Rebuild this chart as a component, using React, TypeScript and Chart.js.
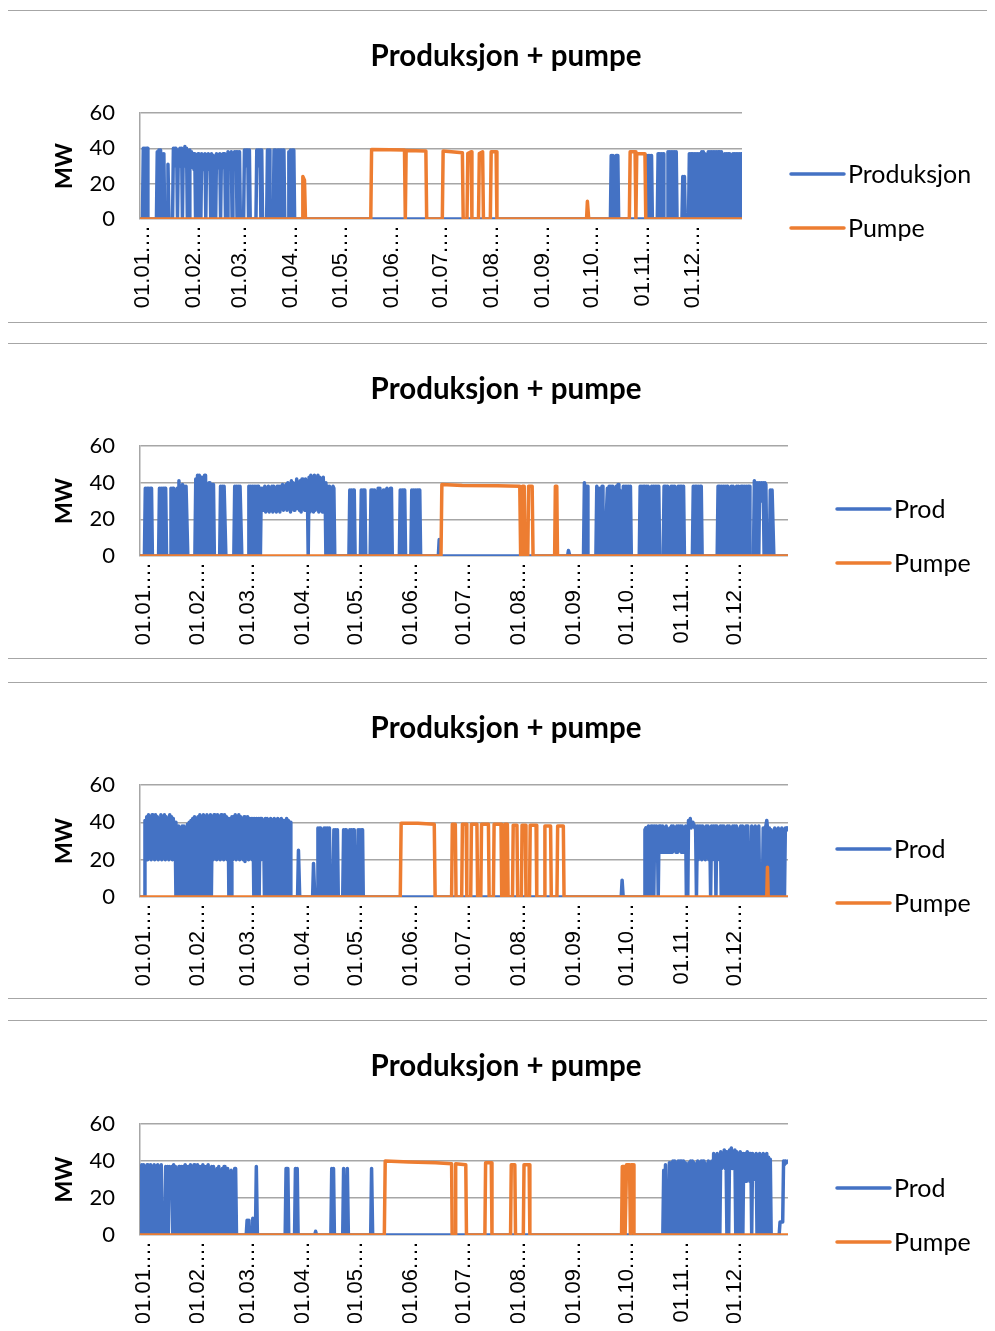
import React, { useEffect, useRef } from 'react';
import { Chart, registerables } from 'chart.js';

Chart.register(...registerables);

// ---------- shared axis data ----------
const monthStarts = [0, 31, 59, 90, 120, 151, 181, 212, 243, 273, 304, 334];
const monthLabels = ['01.01.…', '01.02.…', '01.03.…', '01.04.…', '01.05.…', '01.06.…', '01.07.…', '01.08.…', '01.09.…', '01.10.…', '01.11.…', '01.12.…'];
const yTicks = [0, 20, 40, 60];
const chartTitle = 'Produksjon + pumpe';
const axisTitle = 'MW';
const pumpLabel = 'Pumpe';

// ---------- series: [day of year (0 = 1 Jan), MW] ----------
const p1Prod: [number, number][] = [
  [-2, 0], [-0.5, 0], [0, 40], [0.5, 0], [1, 40], [1.5, 0], [2, 40], [2.5, 40], [2.8, 0],
  [8, 0], [8.5, 38], [9, 0], [9.5, 39], [10, 0], [10.5, 39], [11, 0], [11.5, 37], [12, 31], [12.5, 37], [13, 0],
  [14.5, 0], [15, 31], [15.6, 0],
  [17.8, 0], [18.3, 40], [18.8, 31], [19.3, 40], [19.8, 30], [20.3, 39], [20.8, 0], [21.3, 39], [21.8, 30], [22.3, 40], [22.8, 31], [23.3, 40], [23.8, 0], [24.3, 39], [24.8, 30], [25.3, 41], [25.8, 31], [26.3, 40], [26.8, 0],
  [27.8, 0], [28.3, 39], [28.8, 29], [29.3, 38], [29.8, 30], [30.3, 37], [30.8, 28], [31.3, 37], [31.8, 0], [32.3, 36], [32.8, 28], [33.3, 37], [33.8, 0],
  [35, 0], [35.5, 37], [36, 28], [36.5, 36], [37, 29], [37.5, 37], [38, 0], [38.5, 36], [39, 28], [39.5, 37], [40, 29], [40.5, 36], [41, 0], [41.5, 37], [42, 29], [42.5, 36], [43, 0],
  [44, 0], [44.5, 37], [45, 29], [45.5, 36], [46, 30], [46.5, 37], [47, 0], [47.5, 36], [48, 29], [48.5, 37], [49, 30], [49.5, 37], [50, 0],
  [51, 0], [51.5, 38], [52, 29], [52.5, 37], [53, 30], [53.5, 38], [54, 0], [54.5, 37], [55, 29], [55.5, 38], [56, 30], [56.5, 38], [57, 0], [57.5, 38], [58, 29], [58.5, 38], [59, 0],
  [61, 0], [61.5, 39], [62, 30], [62.5, 39], [63, 31], [63.5, 39], [64, 0], [64.5, 39], [65, 0],
  [68.5, 0], [69, 39], [69.5, 31], [70, 39], [70.5, 30], [71, 39], [71.5, 0], [72, 39], [72.5, 0],
  [75, 0], [75.5, 39], [76, 38], [76.5, 39], [77, 0],
  [79, 0], [79.5, 39], [80, 30], [80.5, 39], [81, 0], [81.5, 38], [82, 39], [82.5, 0], [83, 30], [83.5, 39], [84, 39], [84.5, 0], [85, 39], [85.5, 38], [86, 0],
  [88, 0], [88.5, 38], [89, 0], [89.5, 39], [90, 0], [90.5, 39], [91, 0], [91.5, 39], [92, 0],
  [284, 0], [284.5, 36], [285, 0], [285.5, 36], [286, 0], [287, 0], [287.5, 36], [288, 0], [288.5, 36], [289, 0],
  [305.5, 0], [306, 36], [306.5, 0], [307, 36], [307.5, 0], [308, 36], [308.5, 0], [309, 36], [309.5, 0],
  [312.5, 0], [313, 37], [313.5, 0], [314, 37], [314.5, 0], [315, 37], [315.5, 0], [316, 37], [316.5, 0],
  [318.5, 0], [319, 38], [319.5, 0], [320, 38], [320.5, 0], [321, 38], [321.5, 0], [322, 38], [322.5, 0], [323, 38], [323.5, 0], [324, 38], [324.5, 0],
  [327.5, 0], [328, 24], [328.5, 0], [329, 24], [329.5, 0],
  [331.5, 0], [332, 37], [332.5, 0], [333, 37], [333.5, 0], [334, 37], [334.5, 0], [335, 37], [335.5, 0], [336, 37], [336.5, 0], [337, 37], [337.5, 0], [338, 37], [338.5, 0],
  [339, 0], [339.5, 38], [340, 0], [340.5, 38], [341, 0], [341.5, 37], [342, 0], [343, 0], [343.5, 38], [344, 0], [344.5, 38], [345, 0], [345.5, 38], [346, 0], [346.5, 38], [347, 0],
  [347.5, 38], [348, 0], [348.5, 38], [349, 0], [349.5, 38], [350, 0], [350.5, 38], [351, 0], [351.5, 38], [352, 0],
  [353, 0], [353.5, 37], [354, 0], [354.5, 37], [355, 0], [355.5, 37], [356, 0], [356.5, 37], [357, 0], [358, 0], [358.5, 37], [359, 0], [359.5, 37], [360, 0], [360.5, 37], [361, 0],
  [361.5, 37], [362, 0], [362.5, 37], [363, 0], [363.5, 37], [364, 0],
];

const p1Pump: [number, number][] = [
  [-2, 0], [96.5, 0], [97, 24], [98, 22], [98.6, 0],
  [138.3, 0], [138.8, 39.3], [150, 39.2], [158.8, 39], [159.3, 0], [159.8, 38.8], [171.8, 38.5], [172.3, 0],
  [181.8, 0], [182.3, 38.5], [194, 37.5], [194.5, 0],
  [196.8, 0], [197.3, 37], [199.3, 38], [199.8, 0],
  [203.8, 0], [204.3, 37], [206.3, 38], [206.8, 0],
  [211, 0], [211.5, 38], [214.5, 38], [215, 0],
  [269.5, 0], [270, 10], [270.8, 0],
  [295.5, 0], [296, 38], [299, 38], [299.5, 0], [300, 37], [305, 37], [305.5, 0],
  [364, 0],
];

const p2Prod: [number, number][] = [
  [-2, 0], [0.5, 0], [1, 37], [1.5, 0], [2, 37], [2.5, 0], [3, 37], [3.5, 0], [4, 37], [4.5, 37], [5, 0],
  [8.5, 0], [9, 37], [9.5, 0], [10, 37], [10.5, 0], [11, 37], [11.5, 0], [12, 37], [12.5, 37], [13, 0],
  [15, 0], [15.5, 37], [16, 0], [16.5, 37], [17, 37], [17.5, 0], [18.5, 0], [19, 37], [19.5, 0], [20, 41], [20.5, 0], [21.5, 0], [22, 39], [22.5, 0], [23, 38], [23.5, 0], [24, 38], [24.5, 38], [25, 0],
  [29, 0], [29.5, 42], [30, 0], [30.5, 44], [31, 0], [31.5, 44], [32, 0], [32.5, 43], [33, 0], [33.5, 41], [34, 0], [34.5, 44], [35, 44], [35.5, 0],
  [36.5, 0], [37, 40], [37.5, 0], [38, 39], [38.5, 0], [39, 39], [39.5, 39], [40, 0],
  [43, 0], [43.5, 38], [44, 0], [44.5, 38], [45, 0], [45.5, 38], [46, 38], [46.5, 0],
  [51, 0], [51.5, 38], [52, 0], [52.5, 38], [53, 0], [53.5, 38], [54, 0], [54.5, 38], [55, 38], [55.5, 0],
  [59, 0], [59.5, 38], [60, 0], [60.5, 38], [61, 0], [61.5, 38], [62, 0], [62.5, 38], [63, 0], [63.5, 38], [64, 0], [64.5, 38], [65, 38], [65.5, 0], [66, 0],
  [66.5, 37], [67, 25], [67.5, 37], [68, 25], [68.5, 38], [69, 24], [69.5, 37], [70, 25], [70.5, 38], [71, 24], [71.5, 37], [72, 25], [72.5, 38], [73, 24], [73.5, 38], [74, 25], [74.5, 37], [75, 24],
  [75.5, 38], [76, 25], [76.5, 38], [77, 24], [77.5, 38], [78, 26], [78.5, 39], [79, 25], [79.5, 38], [80, 26], [80.5, 39], [81, 25], [81.5, 40], [82, 27], [82.5, 39], [83, 24], [83.5, 41], [84, 26],
  [84.5, 40], [85, 25], [85.5, 39], [86, 27], [86.5, 42], [87, 26], [87.5, 40], [88, 25], [88.5, 41], [89, 24], [89.5, 42], [90, 27], [90.5, 40], [91, 25], [91.5, 42], [92, 26], [92.5, 40], [93, 0],
  [93.5, 43], [94, 24], [94.5, 44], [95, 26], [95.5, 43], [96, 24], [96.5, 44], [97, 25], [97.5, 42], [98, 26], [98.5, 44], [99, 24], [99.5, 43], [100, 26], [100.5, 42], [101, 24], [101.5, 43], [102, 25],
  [102.5, 40], [103, 0], [103.5, 0], [104, 38], [104.5, 0], [105, 38], [105.5, 0], [106, 37], [106.5, 0], [107, 38], [107.5, 37], [108, 0],
  [116, 0], [116.5, 36], [117, 0], [117.5, 36], [118, 0], [118.5, 36], [119, 36], [119.5, 0],
  [122.5, 0], [123, 36], [123.5, 0], [124, 36], [124.5, 0], [125, 36], [125.5, 0],
  [128, 0], [128.5, 36], [129, 0], [129.5, 36], [130, 0], [130.5, 36], [131, 0], [132, 0], [132.5, 37], [133, 0], [133.5, 37], [134, 0],
  [135, 0], [135.5, 36], [136, 0], [136.5, 36], [137, 0], [137.5, 37], [138, 0], [138.5, 36], [139, 0], [139.5, 37], [140, 37], [140.5, 0],
  [144.5, 0], [145, 36], [145.5, 0], [146, 36], [146.5, 0], [147, 36], [147.5, 36], [148, 0],
  [151, 0], [151.5, 36], [152, 0], [152.5, 36], [153, 0], [153.5, 36], [154, 0], [154.5, 36], [155, 0], [155.5, 36], [156, 36], [156.5, 0],
  [166.5, 0], [167, 9], [167.5, 0],
  [239.5, 0], [240, 3], [240.8, 0],
  [248.5, 0], [249, 40], [249.5, 0], [250, 38], [250.5, 38], [251, 0],
  [255.5, 0], [256, 38], [256.5, 0], [257, 37], [257.5, 0], [258, 37], [258.5, 0], [259, 38], [259.5, 0], [261, 0], [261.5, 25], [262, 37], [262.5, 0], [263, 38], [263.5, 0], [264, 38], [264.5, 0],
  [265, 38], [265.5, 0], [266.5, 0], [267, 38], [267.5, 0], [268, 39], [268.5, 0], [269, 36], [269.5, 0], [270.5, 0], [271, 38], [271.5, 0], [272, 38], [272.5, 0],
  [273, 38], [273.5, 0], [274, 38], [274.5, 0], [275, 38], [275.5, 0],
  [280, 0], [280.5, 38], [281, 0], [281.5, 38], [282, 0], [282.5, 38], [283, 38], [283.5, 0], [284, 38], [284.5, 0], [285, 38], [285.5, 0], [286, 37], [286.5, 0],
  [287, 38], [287.5, 0], [288, 38], [288.5, 0], [289, 38], [289.5, 0], [290, 38], [290.5, 0], [291, 38], [291.5, 0],
  [293.5, 0], [294, 38], [294.5, 0], [295, 38], [295.5, 0], [296, 38], [296.5, 0], [297, 37], [297.5, 0], [298, 38], [298.5, 0], [299, 38], [299.5, 0],
  [300, 38], [300.5, 0], [301, 37], [301.5, 0], [302, 38], [302.5, 0], [303, 38], [303.5, 0], [304, 38], [304.5, 0], [305, 38], [305.5, 0],
  [310, 0], [310.5, 38], [311, 0], [311.5, 38], [312, 0], [312.5, 38], [313, 0], [313.5, 38], [314, 0], [314.5, 38], [315, 38], [315.5, 0],
  [324, 0], [324.5, 38], [325, 0], [325.5, 38], [326, 0], [326.5, 38], [327, 0], [327.5, 38], [328, 0], [328.5, 38], [329, 0], [329.5, 38], [330, 38], [330.5, 0],
  [331.5, 0], [332, 38], [332.5, 0], [333, 38], [333.5, 0], [334, 37], [334.5, 0], [335, 38], [335.5, 0], [336, 38], [336.5, 0],
  [337, 0], [337.5, 38], [338, 0], [338.5, 38], [339, 0], [339.5, 38], [340, 0], [340.5, 38], [341, 0], [341.5, 38], [342, 38], [342.5, 0],
  [344.5, 0], [345, 41], [345.5, 0], [346, 40], [346.5, 0], [347, 40], [347.5, 0], [348, 40], [348.5, 30], [349, 40], [349.5, 30], [350, 40], [350.5, 0], [351, 40], [351.5, 39], [352, 0],
  [353.5, 0], [354, 36], [354.5, 0], [355, 36], [355.5, 36], [356, 0], [364, 0],
];

const p2Pump: [number, number][] = [
  [-2, 0], [168, 0], [168.5, 39], [180, 38.5], [200, 38.3], [212.5, 38], [213, 0],
  [213.5, 0], [214, 38], [215, 38], [215.5, 0],
  [217, 0], [217.5, 38], [219.5, 38], [220, 0],
  [232.2, 0], [232.6, 38], [233.4, 38], [233.8, 0],
  [364, 0],
];

const p3Prod: [number, number][] = [
  [-2, 0], [0.5, 0], [0.8, 41],
  [1.3, 22], [1.8, 43], [2.3, 20], [2.8, 44], [3.3, 21], [3.8, 42], [4.3, 20], [4.8, 44], [5.3, 21], [5.8, 43], [6.3, 20], [6.8, 44], [7.3, 22], [7.8, 43], [8.3, 20], [8.8, 42], [9.3, 21], [9.8, 44],
  [10.3, 20], [10.8, 43], [11.3, 22], [11.8, 44], [12.3, 20], [12.8, 43], [13.3, 21], [13.8, 42], [14.3, 20], [14.8, 44], [15.3, 21], [15.8, 43], [16.3, 20], [16.8, 42], [17.3, 21], [17.8, 40],
  [18.3, 0], [18.8, 38], [19.3, 0], [19.8, 38], [20.3, 0], [20.8, 37], [21.3, 0], [21.8, 38], [22.3, 0], [22.8, 38], [23.3, 0], [23.8, 37], [24.3, 0], [24.8, 39], [25.3, 0], [25.8, 40], [26.3, 0], [26.8, 41],
  [27.3, 0], [27.8, 42], [28.3, 0], [28.8, 43], [29.3, 0], [29.8, 42], [30.3, 0], [30.8, 43], [31.3, 0], [31.8, 44], [32.3, 0], [32.8, 43], [33.3, 0], [33.8, 44], [34.3, 0], [34.8, 43], [35.3, 0], [35.8, 44],
  [36.3, 0], [36.8, 43], [37.3, 0], [37.8, 44], [38.3, 0], [38.8, 43],
  [39.3, 20], [39.8, 44], [40.3, 21], [40.8, 43], [41.3, 20], [41.8, 44], [42.3, 22], [42.8, 43], [43.3, 20], [43.8, 44], [44.3, 21], [44.8, 43], [45.3, 20], [45.8, 44], [46.3, 21], [46.8, 43], [47.3, 20], [47.8, 42],
  [48.2, 0], [49.5, 0], [49.9, 43],
  [50.3, 20], [50.8, 43], [51.3, 21], [51.8, 44], [52.3, 20], [52.8, 43], [53.3, 22], [53.8, 44], [54.3, 20], [54.8, 43], [55.3, 21], [55.8, 42], [56.3, 20], [56.8, 43], [57.3, 19], [57.8, 42],
  [58.3, 21], [58.8, 43], [59.3, 20], [59.8, 42], [60.3, 21], [60.8, 42], [61.3, 20], [61.8, 42], [62.3, 0], [62.8, 42], [63.3, 21], [63.8, 42], [64.3, 0], [64.8, 42], [65.3, 0], [65.8, 42],
  [66.3, 20], [66.8, 42], [67.3, 21], [67.8, 41], [68.3, 0], [68.8, 42], [69.3, 20], [69.8, 42], [70.3, 0],
  [70.8, 41], [71.3, 0], [71.8, 42], [72.3, 0], [72.8, 41], [73.3, 0], [73.8, 42], [74.3, 0], [74.8, 41], [75.3, 0], [75.8, 42], [76.3, 0], [76.8, 41], [77.3, 0], [77.8, 42], [78.3, 0], [78.8, 41],
  [79.3, 0], [79.8, 40], [80.3, 0], [80.8, 42], [81.3, 0], [81.8, 41], [82.3, 0], [82.8, 40], [83.2, 0],
  [87, 0], [87.5, 25], [88.2, 0],
  [95.5, 0], [96, 18], [96.7, 0],
  [98, 0], [98.5, 37], [99, 0], [99.5, 37], [100, 37], [100.5, 0],
  [101.5, 0], [102, 37], [102.5, 0], [103, 37], [103.5, 0], [104, 37], [104.5, 0], [105, 37], [105.5, 0],
  [107, 0], [107.5, 36], [108, 0], [108.5, 36], [109, 0], [109.5, 36], [110, 0], [112.5, 0], [113, 36], [113.5, 0], [114, 36], [114.5, 36], [115, 0],
  [116, 0], [116.5, 36], [117, 0], [117.5, 36], [118, 0], [118.5, 36], [119, 36], [119.5, 0],
  [120.8, 0], [121.2, 36], [121.7, 0], [122.2, 36], [122.7, 0], [123.2, 36], [123.7, 36], [124.1, 0],
  [269.8, 0], [270.3, 9], [270.9, 0],
  [282.8, 0], [283.2, 36], [283.7, 37], [284.2, 0], [284.7, 37], [285.2, 38], [285.7, 37], [286.2, 0], [286.7, 38], [287.2, 37], [287.7, 38], [288.2, 0], [288.7, 38], [289.2, 37], [289.7, 38], [290.2, 37],
  [290.7, 0], [291.2, 38], [291.7, 37], [292.2, 38],
  [292.7, 24], [293.2, 38], [293.7, 24], [294.7, 24], [295.2, 38], [295.7, 24], [296.7, 24], [297.2, 37], [297.7, 24], [298.2, 38], [298.7, 24], [299.2, 38], [299.7, 25], [300.2, 37], [300.7, 24], [301.2, 38],
  [301.7, 24], [302.2, 38], [302.7, 25], [303.2, 38], [303.7, 24], [304.2, 38], [304.7, 24], [305.2, 37], [305.7, 25], [306.2, 38], [306.6, 0], [307.4, 0], [307.8, 41], [308.3, 38], [308.8, 42], [309.3, 37],
  [309.8, 40], [310.3, 38], [310.8, 39], [311.3, 37], [311.8, 38], [312.3, 0], [312.8, 38],
  [313.3, 20], [313.8, 38], [314.3, 21], [314.8, 38], [315.3, 20], [315.8, 38], [316.3, 22], [316.8, 37], [317.3, 20], [317.8, 38], [318.3, 21], [318.8, 38], [319.3, 20], [319.8, 37], [320.3, 0], [320.8, 38],
  [321.3, 20], [321.8, 38], [322.3, 21], [322.8, 38], [323.3, 0], [323.8, 38], [324.3, 20], [324.8, 37], [325.3, 21], [325.8, 38], [326.3, 0], [326.8, 38], [327.3, 0],
  [327.8, 38], [328.3, 0], [328.8, 37], [329.3, 0], [329.8, 38], [330.3, 0], [330.8, 38], [331.3, 0], [331.8, 37], [332.3, 0], [332.8, 38], [333.3, 0], [333.8, 38], [334.3, 0], [334.8, 38], [335.3, 37], [335.8, 0],
  [336.8, 0], [337.3, 38], [337.8, 0], [338.3, 38], [338.8, 0], [339.3, 37], [339.8, 0], [340.3, 38], [340.8, 0], [341.3, 38], [341.8, 0],
  [343, 0], [343.5, 38], [344, 0], [344.5, 37], [345, 0], [345.5, 38], [346, 0], [346.5, 37], [347, 0], [347.5, 38], [348, 0],
  [349.5, 0], [350, 37], [350.5, 0], [351, 37], [351.5, 38], [352, 41], [352.5, 36], [353, 0], [353.5, 37], [354, 0], [354.5, 36], [355, 0],
  [356, 0], [356.5, 37], [357, 0], [357.5, 36], [358, 0], [358.5, 37], [359, 0], [359.5, 36], [360, 0], [360.5, 37], [361, 0], [361.5, 36], [362, 0], [362.5, 37], [363, 36], [363.5, 37], [364, 36],
];

const p3Pump: [number, number][] = [
  [-2, 0], [145, 0], [145.5, 39.5], [155, 39.5], [164.2, 39], [164.7, 0],
  [174, 0], [174.4, 39], [176.1, 39], [176.5, 0],
  [179.7, 0], [180.1, 39], [182.2, 39], [182.6, 0],
  [184.8, 0], [185.2, 39], [188.3, 39], [188.7, 0],
  [190.5, 0], [190.9, 39], [194.8, 39], [195.2, 0],
  [197.6, 0], [198, 39], [201.9, 39], [202.3, 0],
  [203.7, 0], [204.1, 39], [205.5, 39], [205.9, 0],
  [208.4, 0], [208.8, 38.5], [210.9, 38.5], [211.3, 0],
  [213.4, 0], [213.8, 38.5], [215.6, 38.5], [216, 0],
  [218, 0], [218.4, 38.5], [221.7, 38.5], [222.1, 0],
  [226.3, 0], [226.7, 38], [229.9, 38], [230.3, 0],
  [233.5, 0], [233.9, 38], [237.1, 38], [237.5, 0],
  [352, 0], [352.4, 16], [352.8, 0],
  [364, 0],
];

const p4Prod: [number, number][] = [
  [-2, 37], [-1.5, 0], [-1, 38], [-0.5, 0], [0, 38], [0.5, 0], [1, 37], [1.5, 0], [2, 38], [2.5, 0], [3, 37], [3.5, 0], [4, 38], [4.5, 0], [5, 37], [5.5, 0], [6, 38], [6.5, 0], [7, 37], [7.5, 0],
  [8, 38], [8.5, 0], [9, 37], [9.5, 0], [10, 38], [10.5, 0],
  [12, 0], [12.5, 37], [13, 0], [13.5, 37], [14, 0], [14.5, 37], [15, 25], [15.5, 25], [16, 37], [16.5, 0], [17, 38], [17.5, 0], [18, 37], [18.5, 0], [19.5, 0], [20, 37], [20.5, 37], [21, 0],
  [21.5, 37], [22, 0], [22.5, 37], [23, 0], [23.5, 38], [24, 0], [24.5, 37], [25, 0], [25.5, 37], [26, 0], [26.5, 38], [27, 0], [27.5, 37], [28, 25], [28.5, 38], [29, 0], [29.5, 37], [30, 0],
  [30.5, 38], [31, 0], [31.5, 37], [32, 0], [32.5, 37], [33, 0], [33.5, 38], [34, 0], [34.5, 37], [35, 0], [35.5, 37], [36, 0], [36.5, 38], [37, 0],
  [38, 0], [38.5, 37], [39, 0], [39.5, 37], [40, 0], [41, 0], [41.5, 36], [42, 0], [42.5, 37], [43, 0], [44, 0], [44.5, 36], [45, 0], [45.5, 37], [46, 0], [47, 0], [47.5, 36], [48, 0],
  [49, 0], [49.5, 35], [50, 0], [51, 0], [51.5, 36], [52, 36], [52.5, 0],
  [58, 0], [58.5, 8], [59, 0], [59.5, 8], [60, 0],
  [61.3, 0], [61.7, 9], [62.2, 0], [63.2, 0], [63.7, 37], [64.3, 0],
  [80, 0], [80.5, 36], [81, 0], [81.5, 36], [82, 0],
  [85.3, 0], [85.8, 36], [86.3, 0], [86.8, 36], [87.3, 0],
  [96.7, 0], [97.2, 2], [97.7, 0],
  [105.8, 0], [106.3, 36], [106.8, 0], [107.3, 36], [107.8, 0],
  [112.5, 0], [113, 36], [113.6, 0], [114.6, 0], [115.1, 36], [115.7, 0],
  [128.3, 0], [128.8, 36], [129.4, 0],
  [293.3, 0], [293.8, 35], [294.3, 0], [294.8, 38], [295.3, 0], [296.5, 0], [297, 39], [297.5, 0], [298, 39], [298.5, 0], [299, 40], [299.5, 0], [300, 40], [300.5, 0],
  [301.5, 0], [302, 40], [302.5, 0], [303, 40], [303.5, 0], [304, 40], [304.5, 0], [305, 40], [305.5, 0], [306, 39], [306.5, 0],
  [307.5, 0], [308, 39], [308.5, 0], [309, 40], [309.5, 0], [310, 40], [310.5, 0], [311, 39], [311.5, 0],
  [312.5, 0], [313, 40], [313.5, 0], [314, 39], [314.5, 0], [315, 40], [315.5, 0], [316, 40], [316.5, 0], [317, 39], [317.5, 0],
  [318.5, 0], [319, 40], [319.5, 0], [320, 39], [320.5, 0], [321, 40], [321.5, 0], [322, 44], [322.5, 0], [323, 40], [323.5, 0], [324, 44], [324.5, 0], [325, 43], [325.5, 0],
  [326, 45], [326.5, 36], [327, 44], [327.5, 37], [328, 46], [328.5, 36], [329, 45], [329.5, 0], [330, 44], [330.5, 0], [331, 46], [331.5, 37], [332, 47], [332.5, 36], [333, 45], [333.5, 37], [334, 46], [334.5, 0],
  [335, 45], [335.5, 36], [336, 44], [336.5, 0], [337, 45], [337.5, 36], [338, 44], [338.5, 0], [339, 44], [339.5, 30], [340, 44], [340.5, 29], [341, 45], [341.5, 30], [342, 44], [342.5, 29], [343, 44], [343.5, 0],
  [344, 44], [344.5, 30], [345, 43], [345.5, 30], [346, 44], [346.5, 0], [347, 43], [347.5, 30], [348, 44], [348.5, 0], [349, 43], [349.5, 0], [350, 44], [350.5, 30], [351, 43], [351.5, 0],
  [352, 44], [352.5, 0], [353, 42], [353.5, 0], [354, 41], [354.5, 0],
  [359, 0], [359.5, 7], [360.5, 7], [361, 7], [361.5, 40], [362, 38], [362.5, 40], [363, 39], [364, 40],
];

const p4Pump: [number, number][] = [
  [-2, 0], [136, 0], [136.5, 40], [150, 39.5], [165, 39], [174, 38.5], [174.3, 0], [176, 0], [176.3, 38.5], [182, 38], [182.4, 0],
  [192.8, 0], [193.2, 39], [196.4, 39], [196.8, 0],
  [207.3, 0], [207.7, 38], [209.7, 38], [210.1, 0],
  [214.5, 0], [214.9, 38], [217.8, 38], [218.2, 0],
  [270, 0], [270.4, 37], [271.5, 37], [272, 0], [272.8, 38], [274.5, 38], [275, 0], [275.5, 38], [276.5, 38], [277, 0],
  [364, 0],
];

// ---------- layout (page pixels) ----------
type PanelCfg = {
  top: number; height: number; plotTop: number; plotBottom: number; plotRight: number;
  legendX: number; legendY: number; prodLabel: string;
  prod: [number, number][]; pump: [number, number][];
};

const panels: PanelCfg[] = [
  { top: 10, height: 313, plotTop: 113, plotBottom: 219, plotRight: 742, legendX: 790, legendY: 174, prodLabel: 'Produksjon', prod: p1Prod, pump: p1Pump },
  { top: 343, height: 316, plotTop: 446, plotBottom: 556, plotRight: 788, legendX: 836, legendY: 509, prodLabel: 'Prod', prod: p2Prod, pump: p2Pump },
  { top: 682, height: 317, plotTop: 785, plotBottom: 897, plotRight: 788, legendX: 836, legendY: 849, prodLabel: 'Prod', prod: p3Prod, pump: p3Pump },
  { top: 1020, height: 320, plotTop: 1124, plotBottom: 1235, plotRight: 788, legendX: 836, legendY: 1188, prodLabel: 'Prod', prod: p4Prod, pump: p4Pump },
];

const PANEL_LEFT = 7;
const CANVAS_W = 987;
const TITLE_CX = 506;
const TITLE_DY = 46;
const BLUE = '#4472C4';
const ORANGE = '#ED7D31';
const GRID = '#a6a6a6';

const panelText = {
  id: 'panelText',
  afterDraw(chart: any, _args: any, opts: any) {
    const ctx = chart.ctx;
    ctx.save();
    ctx.fillStyle = '#000';
    ctx.font = 'bold 29.5px Lato';
    ctx.textAlign = 'center';
    ctx.textBaseline = 'middle';
    ctx.fillText(opts.title, opts.titleX, opts.titleY);
    ctx.restore();
    chart.data.datasets.forEach((ds: any, i: number) => {
      const y = opts.y + i * opts.gap;
      ctx.save();
      ctx.strokeStyle = ds.borderColor;
      ctx.lineWidth = 3.5;
      ctx.lineCap = 'round';
      ctx.beginPath();
      ctx.moveTo(opts.x + 1, y);
      ctx.lineTo(opts.x + 54, y);
      ctx.stroke();
      ctx.fillStyle = '#000';
      ctx.font = '25px Lato';
      ctx.textAlign = 'left';
      ctx.textBaseline = 'middle';
      ctx.fillText(ds.label, opts.x + 58, y + 1);
      ctx.restore();
    });
  },
};

function Panel({ cfg }: { cfg: PanelCfg }) {
  const ref = useRef<HTMLCanvasElement | null>(null);
  const canvasH = cfg.height - 2;
  useEffect(() => {
    if (!ref.current) return;
    const originY = cfg.top + 1;
    const originX = PANEL_LEFT + 1;
    const plotTopC = cfg.plotTop - originY;
    const plotBottomC = cfg.plotBottom - originY;
    const chart = new Chart(ref.current, {
      type: 'line',
      data: {
        datasets: [
          { label: cfg.prodLabel, data: cfg.prod.map(([x, y]) => ({ x, y })), borderColor: BLUE, backgroundColor: BLUE, borderWidth: 3.5, pointRadius: 0, tension: 0, order: 2, borderJoinStyle: 'round', borderCapStyle: 'round' } as any,
          { label: pumpLabel, data: cfg.pump.map(([x, y]) => ({ x, y })), borderColor: ORANGE, backgroundColor: ORANGE, borderWidth: 3.5, pointRadius: 0, tension: 0, order: 1, borderJoinStyle: 'round', borderCapStyle: 'round' } as any,
        ],
      },
      options: {
        animation: false,
        responsive: false,
        events: [],
        layout: { padding: { left: 0, top: plotTopC, bottom: 0, right: CANVAS_W - (cfg.plotRight - originX) } },
        plugins: {
          legend: { display: false },
          tooltip: { enabled: false },
          title: { display: false },
          panelText: {
            title: chartTitle, titleX: TITLE_CX - originX, titleY: TITLE_DY - 1,
            x: cfg.legendX - originX, y: cfg.legendY - originY, gap: 54,
          },
        } as any,
        scales: {
          x: {
            type: 'linear', min: -2, max: 364,
            afterBuildTicks: (s: any) => { s.ticks = monthStarts.map((v) => ({ value: v })); },
            afterFit: (s: any) => { s.height = canvasH - plotBottomC; },
            grid: { display: false, drawTicks: false },
            border: { display: false },
            ticks: {
              autoSkip: false, minRotation: 90, maxRotation: 90, padding: 6, color: '#000',
              font: { family: 'Liberation Sans', size: 22 },
              callback: (_v: any, i: number) => monthLabels[i],
            },
          },
          y: {
            min: 0, max: 60,
            afterBuildTicks: (s: any) => { s.ticks = yTicks.map((v) => ({ value: v })); },
            afterFit: (s: any) => { s.width = 140 - originX; },
            grid: { color: GRID, lineWidth: 1.5, drawTicks: false },
            border: { display: true, color: GRID, width: 1.5 },
            ticks: { padding: 25, color: '#000', font: { family: 'Lato', size: 22 } },
            title: { display: true, text: axisTitle, color: '#000', font: { family: 'Lato', size: 23, weight: 'bold' }, padding: { top: 43, bottom: 0 } },
          },
        } as any,
      },
      plugins: [panelText],
    });
    return () => chart.destroy();
  }, [cfg]);
  return (
    <div style={{ position: 'absolute', left: PANEL_LEFT, top: cfg.top, width: 1010, height: cfg.height, border: '1px solid #a6a6a6', boxSizing: 'border-box', background: '#fff' }}>
      <canvas ref={ref} width={CANVAS_W} height={canvasH} style={{ position: 'absolute', left: 0, top: 0 }} />
    </div>
  );
}

export default function App() {
  return (
    <div style={{ position: 'relative', margin: -8, width: 995, height: 1331, overflow: 'hidden', background: '#fff' }}>
      {panels.map((p, i) => <Panel key={i} cfg={p} />)}
    </div>
  );
}
